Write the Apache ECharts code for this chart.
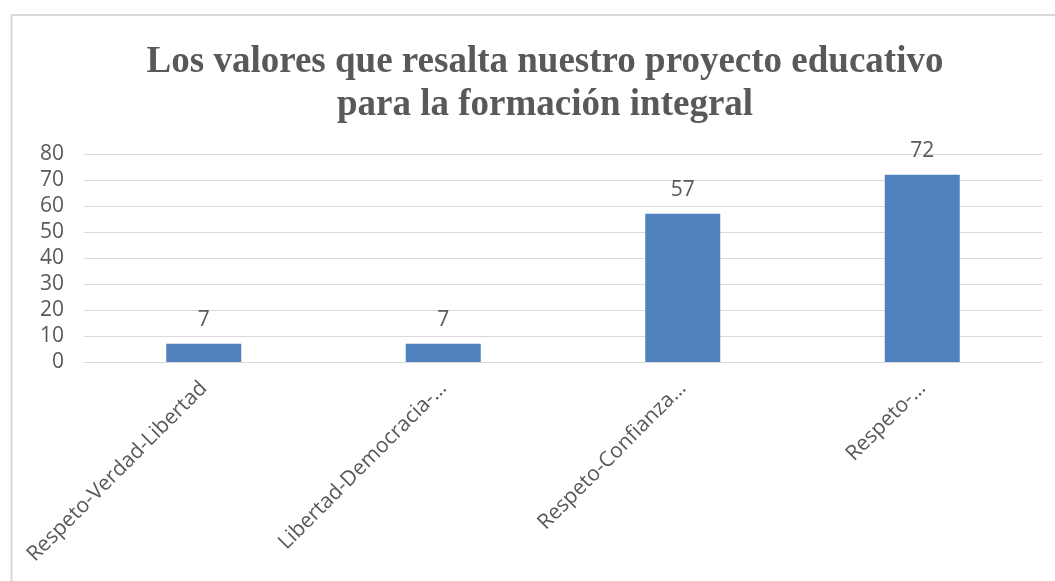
<!DOCTYPE html>
<html>
<head>
<meta charset="utf-8">
<script src="https://cdn.jsdelivr.net/npm/echarts@6/dist/echarts.min.js"></script>
<style>
  html, body { margin: 0; padding: 0; background: #fff; }
  #chart { width: 1055px; height: 581px; }
</style>
</head>
<body>
<div id="chart"></div>
<script>
var titleText = 'Los valores que resalta nuestro proyecto educativo\npara la formación integral';
var categories = ['Respeto-Verdad-Libertad', 'Libertad-Democracia-…', 'Respeto-Confianza…', 'Respeto-…'];
var values = [7, 7, 57, 72];
var yTicks = [0, 10, 20, 30, 40, 50, 60, 70, 80];

var myChart = echarts.init(document.getElementById('chart'));
var option = {
	animation: false,
	textStyle: { fontFamily: 'Open Sans' },
	graphic: [{
		type: 'rect',
		shape: { x: 11.5, y: 15, width: 1200, height: 700 },
		style: { fill: 'none', stroke: '#d9d9d9', lineWidth: 2 },
		silent: true
	}],
	title: {
		text: titleText,
		left: 540,
		top: 36,
		textAlign: 'center',
		textStyle: {
			fontFamily: 'Liberation Serif',
			fontWeight: 'bold',
			fontSize: 37,
			lineHeight: 43,
			color: '#595959'
		}
	},
	grid: { left: 84, right: 13, top: 154, bottom: 219, containLabel: false },
	xAxis: {
		type: 'category',
		data: categories,
		axisLine: { lineStyle: { color: '#d9d9d9', width: 1 } },
		axisTick: { show: false },
		axisLabel: {
			rotate: 45,
			interval: 0,
			margin: 23,
			fontSize: 21,
			color: '#595959'
		}
	},
	yAxis: {
		type: 'value',
		min: yTicks[0],
		max: yTicks[yTicks.length - 1],
		interval: 10,
		axisLine: { show: false },
		axisTick: { show: false },
		axisLabel: { fontSize: 21, color: '#595959', margin: 20 },
		splitLine: { lineStyle: { color: '#d9d9d9', width: 1 } }
	},
	series: [{
		type: 'bar',
		data: values,
		barWidth: 75,
		itemStyle: { color: '#4f81bd' },
		label: {
			show: true,
			position: 'top',
			distance: 13,
			fontSize: 21,
			color: '#595959'
		}
	}]
};
myChart.setOption(option);
</script>
</body>
</html>
